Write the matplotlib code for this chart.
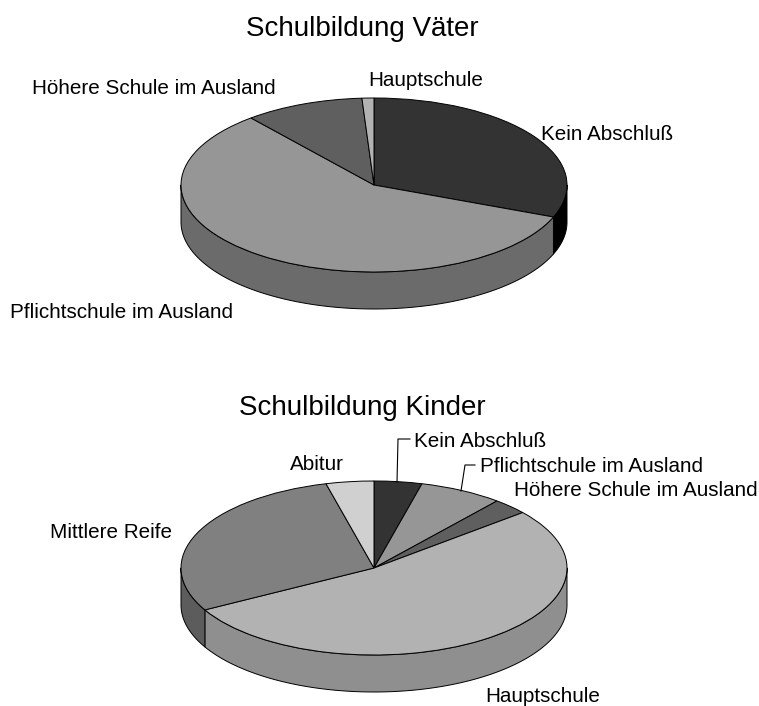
import numpy as np
import matplotlib
matplotlib.use("Agg")
import matplotlib.pyplot as plt
from matplotlib.lines import Line2D

plt.rcParams['font.family'] = ['Liberation Sans', 'DejaVu Sans']

W, H = 759, 706

title_father = "Schulbildung Väter"
labels_father = ["Kein Abschluß", "Pflichtschule im Ausland", "Höhere Schule im Ausland", "Hauptschule"]
values_father = [31, 58, 10, 1]
colors_father = ["#333333", "#969696", "#5f5f5f", "#b2b2b2"]
sides_father = ["#000000", "#6b6b6b", "#444444", "#808080"]

title_child = "Schulbildung Kinder"
labels_child = ["Kein Abschluß", "Pflichtschule im Ausland", "Höhere Schule im Ausland",
                "Hauptschule", "Mittlere Reife", "Abitur"]
values_child = [4, 7, 3, 53, 29, 4]
colors_child = ["#333333", "#969696", "#5f5f5f", "#b2b2b2", "#808080", "#d0d0d0"]
sides_child = ["#000000", "#6b6b6b", "#444444", "#8f8f8f", "#5c5c5c", "#969696"]

RX, RY, DEPTH = 193.0, 87.0, 37.0
EDGE = 0.7


def pie3d(cx, cy, values, colors, sides):
    margin = 6
    left = cx - RX - margin
    right = cx + RX + margin
    top = cy - RY - margin
    bottom = cy + RY + DEPTH + margin
    ax = fig.add_axes([left / W, 1 - bottom / H, (right - left) / W, (bottom - top) / H])
    fractions = np.asarray(values, dtype=float) / np.sum(values)
    ends = 90 - 360 * np.cumsum(fractions)
    starts = np.r_[90, ends[:-1]]
    d = DEPTH / RY
    for a0, a1, side in zip(starts, ends, sides):
        # visible wall: the part of the slice on the lower half of the ellipse
        h, l = min(a0, 0), max(a1, -180)
        if h > l:
            t = np.radians(np.linspace(h, l, 120))
            x = np.cos(t)
            y = np.sin(t)
            ax.fill(np.r_[x, x[::-1]], np.r_[y, y[::-1] - d],
                    facecolor=side, edgecolor="black", linewidth=EDGE,
                    joinstyle="round", zorder=1)
    ax.pie(values, startangle=90, counterclock=False, colors=colors, radius=1,
           wedgeprops=dict(edgecolor="black", linewidth=EDGE, zorder=2))
    ax.set_aspect("auto")
    ax.set_xlim(-(RX + margin) / RX, (RX + margin) / RX)
    ax.set_ylim(-(RY + DEPTH + margin) / RY, (RY + margin) / RY)
    ax.axis("off")


def label(px, py, s, size=14.9, ha="left"):
    fig.text(px / W, 1 - py / H, s, fontsize=size, ha=ha, va="center", color="black")


def leader(xs, ys):
    fig.add_artist(Line2D([x / W for x in xs], [1 - y / H for y in ys],
                          color="black", lw=0.8, transform=fig.transFigure))


fig = plt.figure(figsize=(W / 100, H / 100), dpi=100, facecolor="white")

pie3d(374, 185, values_father, colors_father, sides_father)
pie3d(374, 568, values_child, colors_child, sides_child)

label(362.5, 29, title_father, size=20, ha="center")
label(541, 134, labels_father[0])
label(10, 313, labels_father[1])
label(32, 89, labels_father[2])
label(368, 81, labels_father[3])

label(362.5, 408, title_child, size=20, ha="center")
label(414, 442, labels_child[0])
label(480, 467, labels_child[1])
label(514, 491, labels_child[2])
label(485, 697, labels_child[3])
label(50, 533, labels_child[4])
label(290, 465, labels_child[5])

leader([410, 398, 397], [439, 439, 482])
leader([475, 465, 461], [465, 465, 491])

fig.savefig("out.png", dpi=100, facecolor="white")
